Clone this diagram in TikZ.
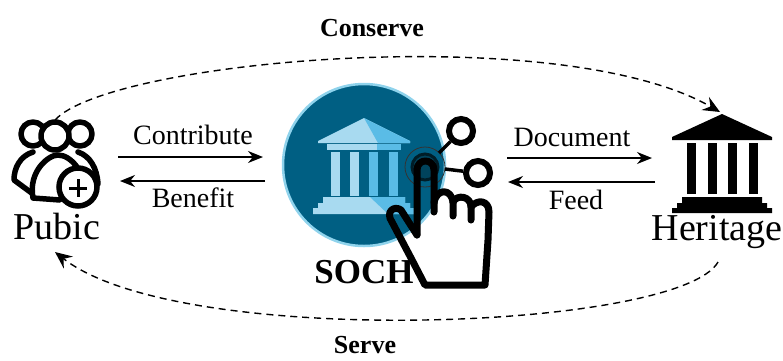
\documentclass[tikz,border=0pt]{standalone}
\usepackage{fontspec}
\setmainfont{Liberation Serif}
\usetikzlibrary{arrows.meta}
\definecolor{sochblue}{HTML}{005F83}
\definecolor{sochring}{HTML}{8FD3EC}
\definecolor{sochlight}{HTML}{A8DAF0}
\definecolor{sochmid}{HTML}{5ABCE6}
\tikzset{
    label/.style={font=\fontsize{28}{30}\selectfont, inner sep=0pt},
    biglabel/.style={font=\fontsize{38}{40}\selectfont, inner sep=0pt},
    titlelabel/.style={font=\fontsize{26}{28}\selectfont\bfseries, inner sep=0pt},
    flow/.style={line width=1.6pt, -{Stealth[length=15pt,width=12pt]}},
    loop/.style={line width=1.4pt, dash pattern=on 7pt off 5pt, -{Stealth[length=17pt,width=15pt,inset=6pt]}},
    icon/.style={line width=5.5pt, line cap=round, line join=round},
    hand/.style={line width=7pt, line cap=round, line join=round}
}
\begin{document}
\begin{tikzpicture}[x=1pt,y=-1pt]
    \useasboundingbox (0,0) rectangle (783,360);

    % Cerchio centrale
    \node[circle, draw=sochring, fill=sochblue, line width=2.5pt, minimum size=162pt, inner sep=0pt] (soch) at (364,165) {};

    % Tempio centrale
    \fill[sochlight] (364,118) -- (318,141) -- (318,143) -- (410,143) -- (410,141) -- cycle;
    \fill[sochmid] (364,118) -- (378,143) -- (410,143) -- (410,141) -- cycle;
    \fill[sochlight] (327,144) rectangle (401,150);
    \fill[sochmid] (377,144) rectangle (401,150);
    \foreach \x/\c in {331/sochlight, 350/sochlight, 369/sochmid, 389/sochmid}
        \fill[\c] (\x,152) rectangle ++(9,44);
    \fill[sochlight] (323,197) -- (405,197) -- (405,203) -- (410,203) -- (410,208) -- (415,208) -- (415,214) -- (313,214) -- (313,208) -- (318,208) -- (318,203) -- (323,203) -- cycle;
    \fill[sochmid] (370,197) -- (405,197) -- (405,203) -- (410,203) -- (410,208) -- (415,208) -- (415,214) -- (388,214) -- cycle;

    % Tocco
    \draw[line width=0.8pt, black!80] (425,167) circle (20);
    \draw[line width=3pt, black!70!sochblue, fill=black!30!sochblue] (425,167) circle (13);

    % Rami della mano
    \node[circle, draw, line width=6pt, fill=white, minimum size=24pt, inner sep=0pt] (upperdot) at (461,131) {};
    \node[circle, draw, line width=6pt, fill=white, minimum size=24pt, inner sep=0pt] (lowerdot) at (478,173) {};
    \coordinate (touchA) at (439,153);
    \coordinate (touchB) at (445,169);
    \draw[line width=3.5pt] (touchA) -- (upperdot);
    \draw[line width=3.5pt] (touchB) -- (lowerdot);

    \node[biglabel, font=\fontsize{35}{38}\selectfont\bfseries] (sochlabel) at (364,272) {SOCH};

    % Mano
    \draw[hand] (417,235) -- (417,170) .. controls (417,158) and (434,158) .. (434,170) -- (434,212);
    \draw[hand] (434,203) .. controls (436,188) and (452,188) .. (453,203) -- (453,216);
    \draw[hand] (453,202) .. controls (457,194) and (471,196) .. (471,207) -- (471,220);
    \draw[hand] (471,207) .. controls (477,199) and (489,200) .. (489,212)
        -- (488,240) -- (485,285) -- (425,285) -- (411,258) -- (392,222)
        .. controls (385,212) and (394,205) .. (401,210) -- (417,235);

    % Pubblico
    \draw[icon] (33,134) circle (12);
    \draw[icon] (80,134) circle (12);
    \draw[icon] (33,152) .. controls (20,156) and (14,168) .. (14,180) -- (33,194);
    \draw[icon] (78,152) .. controls (90,156) and (97,168) .. (98,184);
    \draw[icon, fill=white] (55,136) circle (14);
    \draw[icon, fill=white] (33,198) .. controls (28,172) and (48,155) .. (58,155) .. controls (65,155) and (72,160) .. (77,167) -- (60,200) -- cycle;
    \node[circle, draw, line width=5.5pt, fill=white, minimum size=38pt, inner sep=0pt] (plusdot) at (78,187) {};
    \draw[line width=3pt] (69,188) -- (87,188);
    \draw[line width=3pt] (78,179) -- (78,197);
    \node[biglabel] (pubic) at (57,226) {Pubic};

    % Patrimonio
    \fill (722,114) -- (672,137) -- (672,140) -- (772,140) -- (772,137) -- cycle;
    \foreach \x in {687,708,728,749}
        \fill (\x,143) rectangle ++(8.5,51);
    \fill (682,197) -- (762,197) -- (762,203) -- (767,203) -- (767,208) -- (772,208) -- (772,213) -- (672,213) -- (672,208) -- (677,208) -- (677,203) -- (682,203) -- cycle;
    \node[biglabel] (heritage) at (717,232) {Heritage};

    % Estremi delle frecce
    \coordinate (pubicA) at (118,157);
    \coordinate (pubicB) at (120,181);
    \coordinate (sochA) at (263,157);
    \coordinate (sochB) at (265,181);
    \coordinate (sochC) at (507,158);
    \coordinate (sochD) at (508,182);
    \coordinate (heritageA) at (652,158);
    \coordinate (heritageB) at (655,182);
    \coordinate (pubicTop) at (55,120);
    \coordinate (pubicDown) at (55,252);
    \coordinate (heritageTop) at (720,112);
    \coordinate (heritageDown) at (718,262);

    \draw[flow] (pubicA) -- (sochA);
    \draw[flow] (sochB) -- (pubicB);
    \draw[flow] (sochC) -- (heritageA);
    \draw[flow] (heritageB) -- (sochD);

    \node[label] (contribute) at (193,135) {Contribute};
    \node[label] (benefit) at (193,198) {Benefit};
    \node[label] (document) at (572,137) {Document};
    \node[label] (feed) at (576,200) {Feed};

    % Curve tratteggiate
    \draw[loop] (pubicTop) .. controls (110,60) and (560,20) .. (heritageTop);
    \draw[loop] (heritageDown) .. controls (680,330) and (180,350) .. (pubicDown);

    \node[titlelabel] (conserve) at (372,28) {Conserve};
    \node[titlelabel] (serve) at (365,345) {Serve};
\end{tikzpicture}
\end{document}
